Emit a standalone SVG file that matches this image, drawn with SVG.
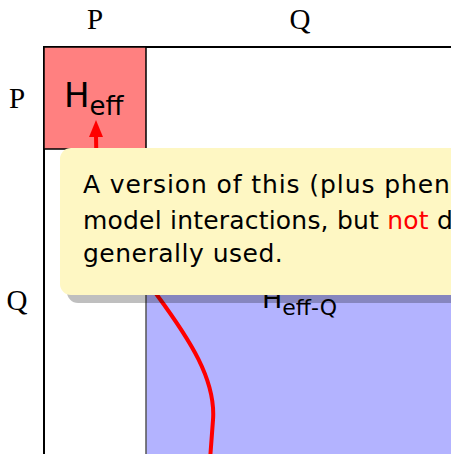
<svg xmlns="http://www.w3.org/2000/svg" width="451" height="454" viewBox="0 0 451 454">
<style>
.lbl{font-family:"Liberation Serif",serif;font-size:29px;fill:#000;text-anchor:middle}
.hand{font-family:"DejaVu Sans",sans-serif;fill:#000}
.note{font-family:"DejaVu Sans",sans-serif;font-size:25px;fill:#000}
.red{fill:#ff0000}
</style>
<rect width="451" height="454" fill="#fff"/>
<g id="labels">
<text class="lbl" x="95" y="29">P</text>
<text class="lbl" x="300" y="29">Q</text>
<text class="lbl" x="17" y="108">P</text>
<text class="lbl" x="17" y="310">Q</text>
</g>
<g id="frame">
<path d="M44,454 V47 H451" fill="none" stroke="#000" stroke-width="2"/>
</g>
<g id="heff-q">
<rect x="146" y="149" width="310" height="310" fill="#b3b3ff" stroke="#555" stroke-width="1.5"/>
<text class="hand" x="262" y="308" font-size="27">H<tspan font-size="22" dy="7">eff-Q</tspan></text>
</g>
<g id="heff">
<rect x="44" y="47" width="102" height="102" fill="#ff8080" stroke="#000" stroke-width="1.5"/>
<text class="hand" x="64" y="107" font-size="34">H<tspan font-size="26" dy="8">eff</tspan></text>
</g>
<g id="connectors">
<path class="red" d="M96,120 L103,137 L89,137 z"/>
<path d="M96,136 C96,220 120,245 157,295 C190,340 216,380 213,420 C212,435 211,445 210,460" fill="none" stroke="#ff0000" stroke-width="4"/>
</g>
<g id="callout">
<rect x="67" y="155" width="420" height="148" rx="11" fill="#000" fill-opacity="0.25"/>
<rect x="60" y="148" width="420" height="147" rx="11" fill="#fef7c3"/>
<text class="note" x="83" y="193" letter-spacing="0.9">A version of this (plus phen</text>
<text class="note" x="83" y="229" letter-spacing="0.2">model interactions, but <tspan class="red">not</tspan> d</text>
<text class="note" x="83" y="262" letter-spacing="0.5">generally used.</text>
</g>
</svg>
